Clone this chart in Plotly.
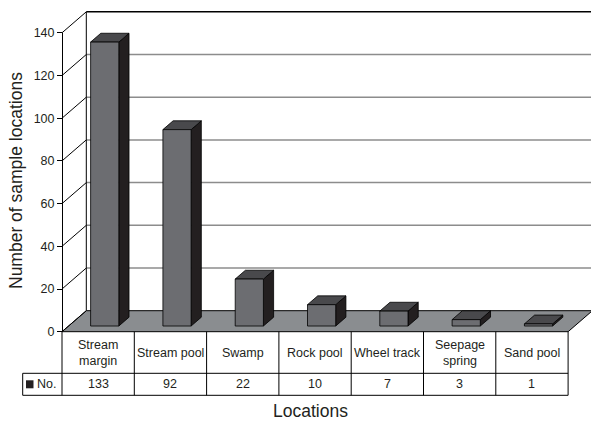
import plotly.graph_objects as go

# ---- data ----
categories = ["Stream<br>margin", "Stream pool", "Swamp", "Rock pool",
              "Wheel track", "Seepage<br>spring", "Sand pool"]
counts = [133, 92, 22, 10, 7, 3, 1]
series_name = "No."
y_ticks = [0, 20, 40, 60, 80, 100, 120, 140]
x_title = "Locations"
y_title = "Number of sample locations"

# ---- geometry of the oblique 3-D frame ----
W, H = 591, 425
ORIGIN_PX = (62.0, 331.7)   # front-left corner of the floor, in pixels
CAT_PX = 72.3               # pixels per category column
UNIT_PX = 2.135             # pixels per count
Y_MAX = 140
DEPTH_PX = (24.3, -21.0)    # screen offset from front plane to back wall


def dx(px):
    return px / CAT_PX


def dy(px):
    return -px / UNIT_PX


DX, DY = dx(DEPTH_PX[0]), dy(DEPTH_PX[1])
X_RANGE = [dx(-ORIGIN_PX[0]), dx(W - ORIGIN_PX[0])]
Y_RANGE = [(ORIGIN_PX[1] - H) / UNIT_PX, ORIGIN_PX[1] / UNIT_PX]

F_FRONT, F_BACK = 0.27, 0.69   # depth fractions of the column faces
BAR_W = 0.39
n = len(categories)

HEAD_BOTTOM = dy(373.3 - ORIGIN_PX[1])
ROW_BOTTOM = dy(395.3 - ORIGIN_PX[1])
KEY_LEFT = dx(22.7 - ORIGIN_PX[0])

FONT = "Liberation Sans, Arial, sans-serif"
FRONT_C, TOP_C, SIDE_C = "#6c6d71", "#49494c", "#231f20"
FLOOR_C, GRID_C = "#8a8d90", "#8c8c8c"


def poly(pts):
    return "M " + " L ".join(f"{x},{y}" for x, y in pts) + " Z"


shapes = []
# floor
shapes.append(dict(type="path", path=poly([(0, 0), (n, 0), (n + DX, DY), (DX, DY)]),
                   fillcolor=FLOOR_C, line=dict(color="black", width=1), layer="below"))
# back-wall gridlines and side-wall diagonals
for v in y_ticks:
    if 0 < v < Y_MAX:
        shapes.append(dict(type="line", x0=DX, y0=v + DY, x1=n + DX, y1=v + DY,
                           line=dict(color=GRID_C, width=1.5), layer="below"))
    shapes.append(dict(type="line", x0=0, y0=v, x1=DX, y1=v + DY,
                       line=dict(color="black", width=1), layer="below"))
# back wall frame
shapes.append(dict(type="line", x0=DX, y0=DY, x1=DX, y1=Y_MAX + DY,
                   line=dict(color="black", width=1), layer="below"))
shapes.append(dict(type="line", x0=DX, y0=Y_MAX + DY, x1=n + DX, y1=Y_MAX + DY,
                   line=dict(color="black", width=1.5), layer="below"))

# column top and side faces
ddx, ddy = (F_BACK - F_FRONT) * DX, (F_BACK - F_FRONT) * DY
bar_x = []
for i, v in enumerate(counts):
    cx = i + 0.5 + F_FRONT * DX
    bar_x.append(cx)
    xl, xr = cx - BAR_W / 2, cx + BAR_W / 2
    bot, top = F_FRONT * DY, F_FRONT * DY + v
    shapes.append(dict(type="path",
                       path=poly([(xr, bot), (xr, top), (xr + ddx, top + ddy), (xr + ddx, bot + ddy)]),
                       fillcolor=SIDE_C, line=dict(color="black", width=0.8), layer="below"))
    shapes.append(dict(type="path",
                       path=poly([(xl, top), (xr, top), (xr + ddx, top + ddy), (xl + ddx, top + ddy)]),
                       fillcolor=TOP_C, line=dict(color="black", width=0.8), layer="below"))

# data table grid
tl = dict(color="black", width=1)
shapes.append(dict(type="line", x0=0, y0=HEAD_BOTTOM, x1=n, y1=HEAD_BOTTOM, line=tl))
shapes.append(dict(type="line", x0=KEY_LEFT, y0=HEAD_BOTTOM, x1=0, y1=HEAD_BOTTOM, line=tl))
shapes.append(dict(type="line", x0=KEY_LEFT, y0=ROW_BOTTOM, x1=n, y1=ROW_BOTTOM, line=tl))
shapes.append(dict(type="line", x0=KEY_LEFT, y0=HEAD_BOTTOM, x1=KEY_LEFT, y1=ROW_BOTTOM, line=tl))
for c in range(n + 1):
    shapes.append(dict(type="line", x0=c, y0=0, x1=c, y1=ROW_BOTTOM, line=tl))
# legend key
key_mid = (HEAD_BOTTOM + ROW_BOTTOM) / 2
shapes.append(dict(type="rect", x0=dx(26 - ORIGIN_PX[0]), x1=dx(33.5 - ORIGIN_PX[0]),
                   y0=key_mid + dy(-4.0), y1=key_mid + dy(4.0),
                   fillcolor="#231f20", line=dict(width=0)))

txt = dict(family=FONT, size=12.5, color="#231f20")
annotations = []
for i, (lab, v) in enumerate(zip(categories, counts)):
    annotations.append(dict(x=i + 0.5, y=HEAD_BOTTOM / 2, text=lab, showarrow=False,
                            xref="x", yref="y", xanchor="center", yanchor="middle", font=txt))
    annotations.append(dict(x=i + 0.5, y=key_mid, text=str(v), showarrow=False,
                            xref="x", yref="y", xanchor="center", yanchor="middle", font=txt))
annotations.append(dict(x=dx(34.5 - ORIGIN_PX[0]), y=key_mid, text=series_name, showarrow=False,
                        xref="x", yref="y", xanchor="left", yanchor="middle", font=txt))
annotations.append(dict(x=311 / W, y=1 - 411 / H, text=x_title, showarrow=False,
                        xref="paper", yref="paper", xanchor="center", yanchor="middle",
                        font=dict(family=FONT, size=17.5, color="#231f20")))
annotations.append(dict(x=16 / W, y=1 - 181 / H, text=y_title, showarrow=False, textangle=-90,
                        xref="paper", yref="paper", xanchor="center", yanchor="middle",
                        font=dict(family=FONT, size=17.5, color="#231f20")))

fig = go.Figure()
fig.add_trace(go.Bar(x=bar_x, y=counts, base=F_FRONT * DY, width=BAR_W, name=series_name,
                     marker=dict(color=FRONT_C, line=dict(color="black", width=0.8)),
                     showlegend=False, hoverinfo="y"))
# carrier for the value axis
fig.add_trace(go.Scatter(x=[0], y=[0], xaxis="x", yaxis="y2", mode="markers",
                         marker=dict(opacity=0), showlegend=False, hoverinfo="skip"))

fig.update_layout(
    width=W, height=H,
    margin=dict(l=0, r=0, t=0, b=0, pad=0, autoexpand=False),
    paper_bgcolor="white", plot_bgcolor="rgba(0,0,0,0)",
    showlegend=False,
    xaxis=dict(range=X_RANGE, visible=False, fixedrange=True),
    yaxis=dict(range=Y_RANGE, visible=False, fixedrange=True),
    yaxis2=dict(domain=[(H - ORIGIN_PX[1]) / H, (H - (ORIGIN_PX[1] - Y_MAX * UNIT_PX)) / H],
                range=[0, Y_MAX], anchor="free", position=ORIGIN_PX[0] / W, side="left",
                showline=True, linecolor="black", linewidth=1,
                ticks="outside", ticklen=5, tickwidth=1, tickcolor="black",
                tickvals=y_ticks, tickfont=dict(family=FONT, size=12.5, color="#231f20"),
                showgrid=False, zeroline=False, fixedrange=True, automargin=False),
    shapes=shapes, annotations=annotations,
)

fig.write_html("out.html")
